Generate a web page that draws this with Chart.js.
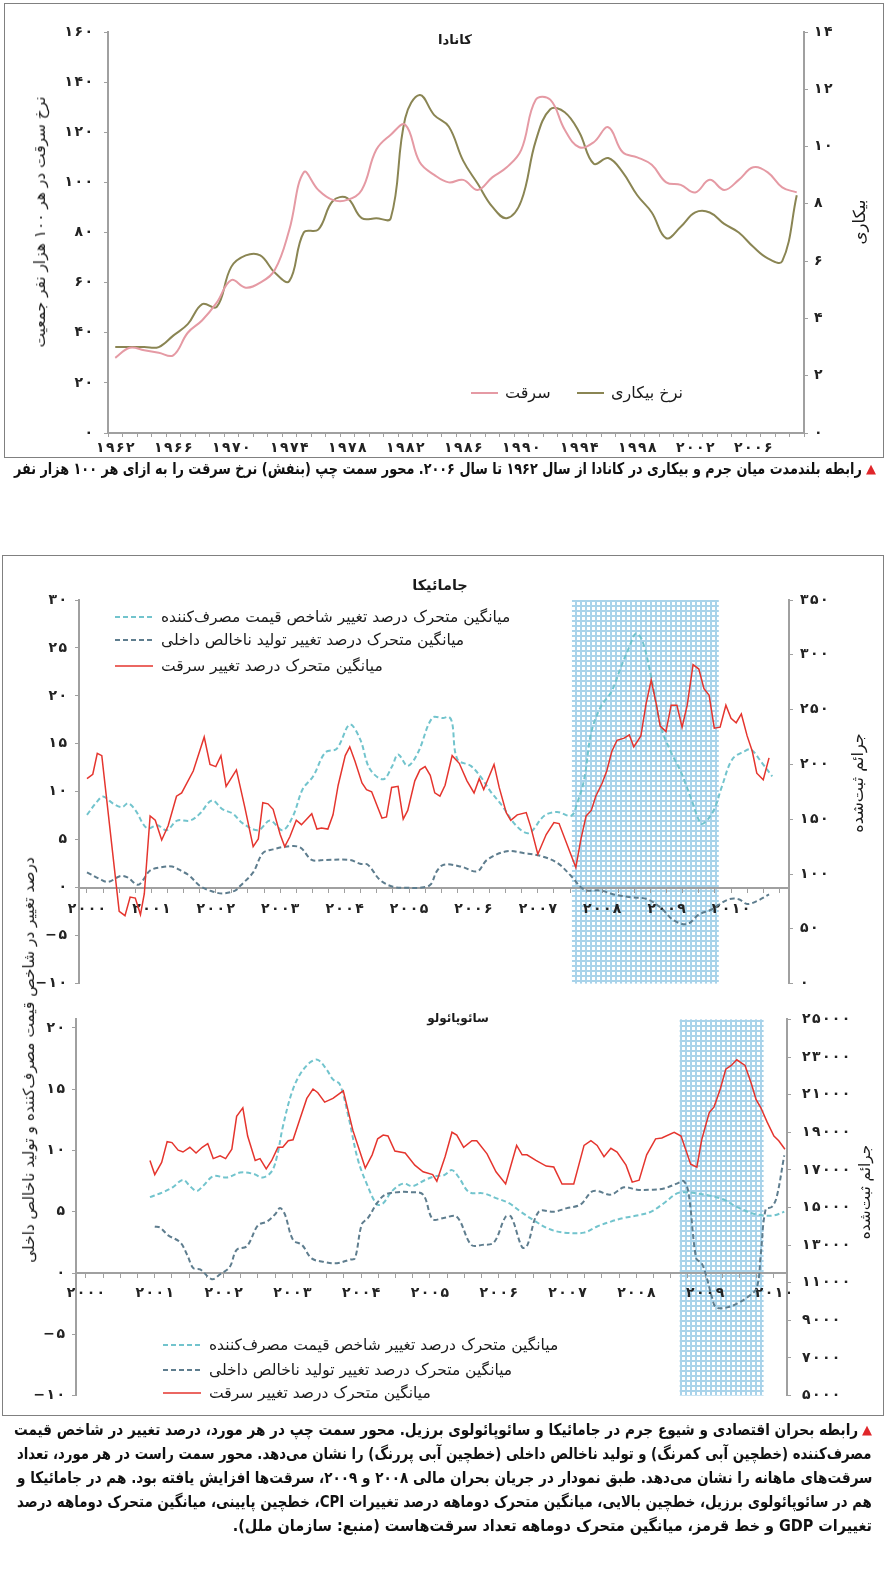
<!DOCTYPE html>
<html lang="fa">
<head>
<meta charset="utf-8">
<script src="https://cdn.jsdelivr.net/npm/chart.js@4.4.1/dist/chart.umd.min.js"></script>
<style>
  html, body { margin: 0; padding: 0; background: #fff; }
  #page { position: relative; width: 888px; height: 1578px; overflow: hidden; font-family: "DejaVu Sans", sans-serif; color: #1a1a1a; }
  .frame { position: absolute; border: 1px solid #808080; }
  .chart { position: absolute; left: 0; }
  .title { position: absolute; white-space: nowrap; transform: translate(-50%, -50%); font-weight: bold; font-size: 14px; direction: rtl; }
  .vtitle { position: absolute; white-space: nowrap; transform: translate(-50%, -50%) rotate(-90deg); font-size: 17px; direction: rtl; }
  .cap { position: absolute; white-space: nowrap; direction: rtl; font-weight: bold; font-size: 16px; line-height: 19px;
         font-family: "DejaVu Sans Condensed", "DejaVu Sans", sans-serif; transform-origin: right center; color: #111; }
  .tri { position: absolute; color: #e0262a; font-size: 13px; line-height: 19px; }
</style>
</head>
<body>
<div id="page">
  <!-- Canada -->
  <div class="frame" style="left:4px;top:3px;width:878px;height:453px"></div>
  <canvas id="canada" class="chart" width="888" height="460" style="top:0"></canvas>
  <div class="title" data-w="34" style="left:455px;top:39px">کانادا</div>
  <div class="vtitle" data-w="251" style="left:40px;top:222px">نرخ سرقت در هر ۱۰۰ هزار نفر جمعیت</div>
  <div class="vtitle" data-w="45" style="left:859px;top:222px">بیکاری</div>
  <div class="tri" style="left:866px;top:459px">▲</div>
  <div class="cap" data-w="848" style="right:26px;top:459px">رابطه بلندمدت میان جرم و بیکاری در کانادا از سال ۱۹۶۲ تا سال ۲۰۰۶. محور سمت چپ (بنفش) نرخ سرقت را به ازای هر ۱۰۰ هزار نفر</div>

  <!-- Jamaica + Sao Paulo -->
  <div class="frame" style="left:2px;top:555px;width:880px;height:859px"></div>
  <canvas id="jamaica" class="chart" width="888" height="440" style="top:560px"></canvas>
  <canvas id="saopaulo" class="chart" width="888" height="415" style="top:1000px"></canvas>
  <div class="title" data-w="56" style="left:440px;top:585px">جامائیکا</div>
  <div class="title" data-w="62" style="left:458px;top:1018px">سائوپائولو</div>
  <div class="vtitle" data-w="100" style="left:857px;top:783px">جرائم ثبت‌شده</div>
  <div class="vtitle" data-w="95" style="left:865px;top:1192px">جرائم ثبت‌شده</div>
  <div class="vtitle" data-w="406" style="left:29px;top:1060px">درصد تغییر در شاخص قیمت مصرف‌کننده و تولید ناخالص داخلی</div>

  <div class="tri" style="left:862px;top:1420px">▲</div>
  <div class="cap" data-w="844" style="right:30px;top:1420px">رابطه بحران اقتصادی و شیوع جرم در جامائیکا و سائوپائولوی برزیل. محور سمت چپ در هر مورد، درصد تغییر در شاخص قیمت</div>
  <div class="cap" data-w="855" style="right:16px;top:1444px">مصرف‌کننده (خطچین آبی کمرنگ) و تولید ناخالص داخلی (خطچین آبی پررنگ) را نشان می‌دهد. محور سمت راست در هر مورد، تعداد</div>
  <div class="cap" data-w="855" style="right:16px;top:1468px">سرقت‌های ماهانه را نشان می‌دهد. طبق نمودار در جریان بحران مالی ۲۰۰۸ و ۲۰۰۹، سرقت‌ها افزایش یافته بود. هم در جامائیکا و</div>
  <div class="cap" data-w="855" style="right:16px;top:1492px">هم در سائوپائولوی برزیل، خطچین بالایی، میانگین متحرک دوماهه درصد تغییرات CPI، خطچین پایینی، میانگین متحرک دوماهه درصد</div>
  <div class="cap" style="right:16px;top:1516px">تغییرات GDP و خط قرمز، میانگین متحرک دوماهه تعداد سرقت‌هاست (منبع: سازمان ملل).</div>
</div>

<script>
// ---------- data: Canada ----------
const canadaYears = [1962, 1963, 1964, 1965, 1966, 1967, 1968, 1969, 1970, 1971, 1972, 1973, 1974, 1975, 1976, 1977,
  1978, 1979, 1980, 1981, 1982, 1983, 1984, 1985, 1986, 1987, 1988, 1989, 1990, 1991, 1992, 1993, 1994, 1995, 1996,
  1997, 1998, 1999, 2000, 2001, 2002, 2003, 2004, 2005, 2006, 2007, 2008, 2009];
const canadaTheft = [30, 34, 33, 32, 31, 40, 45, 52, 61, 58, 60, 65, 81, 104, 97, 93,
  93, 97, 113, 119, 123, 108, 103, 100, 101, 97, 102, 106, 113, 133, 133, 121, 114, 116, 122,
  112, 110, 107, 100, 99, 96, 101, 97, 101, 106, 104, 98, 96];
const canadaUnemployment = [3.0, 3.0, 3.0, 3.0, 3.4, 3.8, 4.5, 4.4, 5.8, 6.2, 6.2, 5.6, 5.3, 7.0, 7.1, 8.1,
  8.2, 7.5, 7.5, 7.5, 11.0, 11.8, 11.1, 10.7, 9.5, 8.7, 7.9, 7.5, 8.1, 10.2, 11.3, 11.2, 10.5, 9.4, 9.6,
  9.1, 8.3, 7.7, 6.8, 7.2, 7.7, 7.7, 7.3, 7.0, 6.5, 6.1, 6.0, 8.3];

// ---------- data: Jamaica ([year, value]) ----------
const jamCrime = [[2000.00,187],[2000.09,191],[2000.16,210],[2000.23,208],[2000.50,66],[2000.59,62],[2000.67,79],[2000.75,78],
  [2000.83,63],[2000.89,82],[2000.98,153],[2001.06,149],[2001.16,131],[2001.26,144],[2001.39,171],[2001.47,174],[2001.65,194],
  [2001.82,225],[2001.91,200],[2002.00,198],[2002.08,208],[2002.16,180],[2002.32,195],[2002.45,161],[2002.58,125],[2002.66,132],
  [2002.73,165],[2002.81,164],[2002.89,159],[2003.00,136],[2003.07,125],[2003.15,134],[2003.25,149],[2003.33,145],[2003.49,155],
  [2003.57,141],[2003.64,142],[2003.74,141],[2003.82,154],[2003.90,181],[2004.01,208],[2004.08,216],[2004.16,203],[2004.27,183],
  [2004.34,177],[2004.42,175],[2004.50,163],[2004.58,151],[2004.65,152],[2004.73,179],[2004.83,180],[2004.91,150],[2004.98,158],
  [2005.09,185],[2005.17,195],[2005.25,198],[2005.33,190],[2005.40,174],[2005.48,171],[2005.56,181],[2005.67,208],[2005.78,201],
  [2005.90,185],[2006.01,174],[2006.09,187],[2006.16,177],[2006.32,200],[2006.40,179],[2006.51,156],[2006.58,149],[2006.68,154],
  [2006.82,156],[2006.89,143],[2007.00,118],[2007.13,136],[2007.25,147],[2007.33,146],[2007.59,106],[2007.67,132],[2007.75,153],
  [2007.83,158],[2007.90,171],[2008.00,183],[2008.07,194],[2008.15,212],[2008.23,222],[2008.34,224],[2008.42,227],[2008.49,216],
  [2008.60,226],[2008.68,255],[2008.76,277],[2008.84,255],[2008.90,235],[2008.99,230],[2009.07,254],[2009.16,254],[2009.24,234],
  [2009.32,254],[2009.41,291],[2009.50,287],[2009.58,269],[2009.66,263],[2009.74,233],[2009.83,234],[2009.92,254],[2010.00,242],
  [2010.08,238],[2010.16,246],[2010.25,226],[2010.33,212],[2010.40,192],[2010.50,186],[2010.59,206]];
const jamCpi = [[2000.00,7.6],[2000.16,9.0],[2000.25,9.5],[2000.40,8.8],[2000.54,8.4],[2000.64,8.8],[2000.75,8.1],[2000.93,6.2],
  [2001.09,6.5],[2001.24,6.0],[2001.40,7.0],[2001.60,7.0],[2001.75,7.7],[2001.94,9.1],[2002.10,8.2],[2002.27,7.7],[2002.42,6.7],
  [2002.66,6.0],[2002.84,7.0],[2003.04,6.0],[2003.20,7.5],[2003.35,10.3],[2003.51,11.6],[2003.70,14.1],[2003.88,14.5],[2004.08,17.0],
  [2004.24,15.5],[2004.39,12.4],[2004.60,11.3],[2004.74,12.7],[2004.83,13.9],[2004.98,12.7],[2005.14,14.1],[2005.36,17.7],
  [2005.53,17.7],[2005.62,17.8],[2005.67,17.2],[2005.75,13.4],[2005.96,12.7],[2006.12,11.5],[2006.27,10.0],[2006.44,8.6],
  [2006.66,6.5],[2006.86,5.7],[2007.10,7.5],[2007.30,7.9],[2007.52,7.5],[2007.61,8.8],[2007.72,11.3],[2007.83,16.2],[2007.98,18.9],
  [2008.14,20.4],[2008.29,23.0],[2008.42,25.1],[2008.52,26.5],[2008.62,25.8],[2008.76,22.0],[2008.91,16.8],[2009.07,14.1],
  [2009.22,12.1],[2009.38,9.3],[2009.53,6.7],[2009.61,6.9],[2009.74,8.2],[2009.86,10.6],[2010.02,13.4],[2010.20,14.2],
  [2010.31,14.4],[2010.47,13.1],[2010.64,11.6]];
const jamGdp = [[2000.00,1.6],[2000.20,0.9],[2000.33,0.6],[2000.51,1.2],[2000.62,1.1],[2000.79,0.3],[2000.87,0.8],[2000.98,1.8],
  [2001.13,2.1],[2001.32,2.2],[2001.48,1.7],[2001.60,1.2],[2001.75,0.2],[2001.91,-0.3],[2002.10,-0.6],[2002.30,-0.3],[2002.38,0.2],
  [2002.58,1.6],[2002.73,3.6],[2002.89,4.0],[2003.11,4.3],[2003.31,4.2],[2003.49,2.9],[2003.70,2.9],[2004.08,2.9],[2004.24,2.5],
  [2004.36,2.4],[2004.55,0.8],[2004.75,0.1],[2004.97,0.0],[2005.17,0.0],[2005.33,0.3],[2005.43,1.7],[2005.54,2.4],[2005.81,2.2],
  [2006.06,1.7],[2006.21,2.9],[2006.52,3.8],[2006.79,3.6],[2007.05,3.3],[2007.30,2.6],[2007.52,1.2],[2007.72,-0.2],[2007.98,-0.3],
  [2008.18,-0.7],[2008.45,-1.0],[2008.70,-1.2],[2008.91,-2.1],[2009.11,-3.4],[2009.32,-3.8],[2009.50,-2.8],[2009.69,-2.3],
  [2009.78,-1.9],[2009.97,-1.2],[2010.12,-1.2],[2010.25,-1.7],[2010.40,-1.4],[2010.59,-0.7]];
const jamCrisis = [2007.53, 2009.81];

// ---------- data: Sao Paulo ([year, value]) ----------
const spCrime = [[2000.93,17500],[2001.00,16750],[2001.10,17400],[2001.18,18500],[2001.25,18450],[2001.34,18050],[2001.41,17950],
  [2001.51,18200],[2001.60,17900],[2001.69,18200],[2001.77,18400],[2001.85,17600],[2001.95,17750],[2002.03,17600],[2002.12,18100],
  [2002.19,19850],[2002.28,20300],[2002.35,18800],[2002.46,17500],[2002.53,17600],[2002.62,17050],[2002.70,17500],[2002.79,18200],
  [2002.86,18200],[2002.94,18550],[2003.01,18600],[2003.11,19700],[2003.21,20800],[2003.30,21300],[2003.37,21100],[2003.47,20600],
  [2003.59,20800],[2003.74,21200],[2003.88,19100],[2004.06,17100],[2004.16,17800],[2004.24,18650],[2004.32,18850],[2004.39,18800],
  [2004.49,18000],[2004.64,17900],[2004.78,17250],[2004.90,16900],[2005.04,16750],[2005.10,16400],[2005.22,17700],[2005.32,19000],
  [2005.39,18850],[2005.49,18200],[2005.61,18550],[2005.68,18550],[2005.83,17850],[2005.96,16900],[2006.10,16250],[2006.26,18300],
  [2006.34,17800],[2006.41,17800],[2006.54,17500],[2006.69,17200],[2006.80,17150],[2006.92,16250],[2007.09,16250],[2007.24,18300],
  [2007.34,18550],[2007.43,18300],[2007.53,17700],[2007.63,18150],[2007.72,17950],[2007.85,17250],[2007.94,16350],[2008.04,16450],
  [2008.15,17800],[2008.28,18650],[2008.37,18700],[2008.55,19000],[2008.65,18800],[2008.79,17300],[2008.88,17150],[2008.95,18600],
  [2009.06,20050],[2009.13,20350],[2009.22,21300],[2009.30,22350],[2009.38,22550],[2009.46,22850],[2009.58,22550],[2009.67,21600],
  [2009.74,20750],[2009.81,20300],[2009.90,19550],[2010.00,18800],[2010.07,18550],[2010.16,18100]];
const spCpi = [[2000.93,6.2],[2001.12,6.6],[2001.26,7.0],[2001.41,7.6],[2001.51,7.1],[2001.61,6.7],[2001.70,7.1],[2001.85,7.9],
  [2002.05,7.8],[2002.24,8.2],[2002.43,8.1],[2002.57,7.8],[2002.70,8.3],[2002.78,9.6],[2002.86,11.9],[2002.99,14.7],[2003.11,16.2],
  [2003.26,17.2],[2003.37,17.4],[2003.50,16.6],[2003.59,15.8],[2003.69,15.4],[2003.81,12.9],[2003.95,9.3],[2004.08,7.3],[2004.23,5.6],
  [2004.32,5.7],[2004.45,6.7],[2004.61,7.3],[2004.75,7.1],[2004.93,7.6],[2005.07,7.9],[2005.21,8.0],[2005.32,8.4],[2005.42,7.8],
  [2005.57,6.6],[2005.78,6.5],[2005.97,6.1],[2006.15,5.7],[2006.32,5.0],[2006.51,4.3],[2006.73,3.6],[2006.95,3.3],[2007.24,3.3],
  [2007.43,3.8],[2007.63,4.2],[2007.82,4.5],[2008.01,4.7],[2008.21,5.0],[2008.40,5.7],[2008.59,6.5],[2008.74,6.6],[2008.88,6.5],
  [2009.08,6.3],[2009.27,6.0],[2009.46,5.4],[2009.67,4.9],[2009.85,4.7],[2010.00,4.7],[2010.15,5.0]];
const spGdp = [[2001.00,3.8],[2001.08,3.7],[2001.19,3.1],[2001.37,2.5],[2001.47,1.5],[2001.56,0.4],[2001.66,0.3],[2001.83,-0.5],
  [2001.95,-0.1],[2002.09,0.5],[2002.19,1.9],[2002.34,2.2],[2002.50,3.9],[2002.63,4.2],[2002.75,4.8],[2002.82,5.3],[2002.89,4.8],
  [2003.01,2.7],[2003.14,2.3],[2003.28,1.2],[2003.47,0.9],[2003.65,0.8],[2003.84,1.1],[2003.91,1.2],[2004.01,4.0],[2004.10,4.5],
  [2004.23,5.7],[2004.35,6.4],[2004.53,6.6],[2004.71,6.6],[2004.90,6.4],[2005.04,4.4],[2005.20,4.5],[2005.39,4.6],[2005.60,2.3],
  [2005.76,2.3],[2005.93,2.5],[2006.10,4.6],[2006.18,4.6],[2006.34,2.1],[2006.41,2.2],[2006.58,5.0],[2006.80,5.0],[2006.99,5.3],
  [2007.19,5.6],[2007.34,6.6],[2007.43,6.7],[2007.63,6.4],[2007.82,7.0],[2008.01,6.8],[2008.21,6.8],[2008.40,6.9],[2008.59,7.3],
  [2008.69,7.5],[2008.76,6.5],[2008.87,1.2],[2008.95,0.8],[2009.03,-0.5],[2009.10,-2.0],[2009.16,-2.8],[2009.32,-2.8],[2009.46,-2.5],
  [2009.61,-2.0],[2009.75,-1.2],[2009.81,1.6],[2009.88,5.2],[2009.97,5.4],[2010.04,6.2],[2010.15,9.6]];
const spCrisis = [2008.63, 2009.85];

// axis ticks
const jamLeftTicks = [-10, -5, 0, 5, 10, 15, 20, 25, 30];
const jamRightTicks = [0, 50, 100, 150, 200, 250, 300, 350];
const spLeftTicks = [-10, -5, 0, 5, 10, 15, 20];
const spRightTicks = [5000, 7000, 9000, 11000, 13000, 15000, 17000, 19000, 21000, 23000, 25000];

const labelCpi = 'میانگین متحرک درصد تغییر شاخص قیمت مصرف\u200cکننده';
const labelGdp = 'میانگین متحرک درصد تغییر تولید ناخالص داخلی';
const labelCrime = 'میانگین متحرک درصد تغییر سرقت';

// ---------- helpers ----------
// persian digits, slightly spaced like the printed figure
const fa = s => String(s).replace(/-/g, '\u2212').replace(/\d/g, d => '۰۱۲۳۴۵۶۷۸۹'[d]).split('').join('\u200a');
const toPts = arr => arr.map(p => ({ x: p[0], y: p[1] }));
const tickFont = { family: "'DejaVu Sans', sans-serif", size: 14, weight: 'bold' };
const axisGrey = '#a0a0a0';

function fixedTicks(list) {
    return function (scale) { scale.ticks = list.map(v => ({ value: v })); };
}
// quarter-year ticks, labels only on whole years
function yearTicks(scale) {
    const list = [];
    for (let v = Math.ceil(scale.min * 4) / 4; v <= scale.max; v += 0.25) list.push({ value: v });
    scale.ticks = list;
}

function axis(extra) {
    return Object.assign({
        grid: { display: true, drawOnChartArea: false, drawTicks: true, tickLength: 4, color: axisGrey, tickColor: axisGrey },
        border: { display: true, color: axisGrey, width: 2 },
    }, extra);
}

// blue grid pattern for the crisis band
function gridPattern(ctx) {
    const c = document.createElement('canvas');
    c.width = 5; c.height = 5;
    const g = c.getContext('2d');
    g.fillStyle = '#ffffff'; g.fillRect(0, 0, 5, 5);
    g.fillStyle = '#a9d3ea';
    g.fillRect(0, 0, 5, 2);
    g.fillRect(0, 0, 2, 5);
    return ctx.createPattern(c, 'repeat');
}

// drawn first so that axes, labels and lines stay on top of it
const hatchBand = {
    id: 'hatchBand',
    beforeDraw(chart, args, opts) {
        if (!opts.range) return;
        const { ctx, chartArea, scales } = chart;
        const x0 = scales.x.getPixelForValue(opts.range[0]);
        const x1 = scales.x.getPixelForValue(opts.range[1]);
        ctx.save();
        ctx.fillStyle = gridPattern(ctx);
        ctx.fillRect(x0, chartArea.top, x1 - x0, chartArea.bottom - chartArea.top);
        ctx.restore();
    }
};

// legend: sample line on the left, text right after it
const lineLegend = {
    id: 'lineLegend',
    afterDatasetsDraw(chart, args, opts) {
        if (!opts.items) return;
        const ctx = chart.ctx;
        ctx.save();
        ctx.font = opts.font;
        ctx.textBaseline = 'middle';
        ctx.textAlign = 'left';
        ctx.fillStyle = '#1a1a1a';
        opts.items.forEach(it => {
            const ds = chart.data.datasets[it[0]];
            ctx.strokeStyle = ds.borderColor;
            ctx.lineWidth = ds.borderWidth;
            ctx.setLineDash(ds.borderDash || []);
            ctx.beginPath();
            ctx.moveTo(it[1], it[2]);
            ctx.lineTo(it[1] + opts.lineLen, it[2]);
            ctx.stroke();
            ctx.fillText(ds.label, it[1] + opts.lineLen + opts.gap, it[2] + 1);
        });
        ctx.restore();
    }
};
Chart.register(hatchBand, lineLegend);

const common = {
    responsive: false,
    animation: false,
    events: [],
    devicePixelRatio: 1,
};

// ---------- Canada ----------
new Chart(document.getElementById('canada'), {
    type: 'line',
    data: {
        labels: canadaYears,
        datasets: [
            { label: 'سرقت', data: canadaTheft, yAxisID: 'y', borderColor: '#e59aa4', borderWidth: 2, tension: 0.4, pointRadius: 0 },
            { label: 'نرخ بیکاری', data: canadaUnemployment, yAxisID: 'y2', borderColor: '#8a8553', borderWidth: 2, tension: 0.4, pointRadius: 0 }
        ]
    },
    options: Object.assign({}, common, {
        layout: { autoPadding: false, padding: { top: 32, bottom: 0, left: 0, right: 0 } },
        plugins: {
            legend: { display: false }, tooltip: { enabled: false },
            lineLegend: { font: "16px 'DejaVu Sans'", lineLen: 27, gap: 7, items: [[0, 471, 393], [1, 577, 393]] }
        },
        scales: {
            x: axis({
                type: 'category', offset: true,
                grid: { display: true, drawOnChartArea: false, drawTicks: true, tickLength: 4, offset: true, color: axisGrey, tickColor: axisGrey },
                ticks: {
                    autoSkip: false, maxRotation: 0, padding: 3, font: tickFont, color: '#222',
                    callback(v, i) { return i % 4 === 0 ? fa(this.getLabelForValue(v)) : ''; }
                },
                afterFit(s) { s.height = 27; }
            }),
            y: axis({
                position: 'left', min: 0, max: 160,
                ticks: { stepSize: 20, padding: 11, font: tickFont, color: '#222', callback: v => fa(v) },
                afterFit(s) { s.width = 108; }
            }),
            y2: axis({
                position: 'right', min: 0, max: 14,
                ticks: { stepSize: 2, padding: 6, font: tickFont, color: '#222', callback: v => fa(v) },
                afterFit(s) { s.width = 84; }
            })
        }
    })
});

// ---------- Jamaica / Sao Paulo ----------
function crimeChart(canvasId, cfg) {
    return new Chart(document.getElementById(canvasId), {
        type: 'line',
        data: {
            datasets: [
                { label: labelCpi, data: toPts(cfg.cpi), yAxisID: 'y', borderColor: '#72c4cd', borderWidth: 2,
                  borderDash: [5, 3], tension: 0.35, pointRadius: 0, order: 2 },
                { label: labelGdp, data: toPts(cfg.gdp), yAxisID: 'y', borderColor: '#5e7d8e', borderWidth: 2,
                  borderDash: [5, 3], tension: 0.35, pointRadius: 0, order: 1 },
                { label: labelCrime, data: toPts(cfg.crime), yAxisID: 'y2', borderColor: '#e5352e', borderWidth: 1.5,
                  tension: 0, pointRadius: 0, order: 0 }
            ]
        },
        options: Object.assign({}, common, {
            layout: { autoPadding: false, padding: cfg.padding },
            plugins: {
                legend: { display: false }, tooltip: { enabled: false },
                hatchBand: { range: cfg.crisis },
                lineLegend: { font: "15.5px 'DejaVu Sans'", lineLen: 38, gap: 8, items: cfg.legend }
            },
            scales: {
                x: axis({
                    type: 'linear', position: { y: 0 }, min: cfg.xMin, max: cfg.xMax,
                    afterBuildTicks: yearTicks,
                    ticks: { autoSkip: false, maxRotation: 0, padding: cfg.xPad, font: tickFont, color: '#222',
                             callback: v => Number.isInteger(v) ? fa(v) : '' }
                }),
                y: axis({
                    position: 'left', min: cfg.yMin, max: cfg.yMax,
                    afterBuildTicks: fixedTicks(cfg.leftTicks),
                    ticks: { padding: cfg.yPad, font: tickFont, color: '#222', callback: v => fa(v) },
                    afterFit(s) { s.width = cfg.leftW; }
                }),
                y2: axis({
                    position: 'right', min: cfg.y2Min, max: cfg.y2Max,
                    afterBuildTicks: fixedTicks(cfg.rightTicks),
                    ticks: { padding: cfg.y2Pad, font: tickFont, color: '#222', callback: v => fa(v) },
                    afterFit(s) { s.width = cfg.rightW; }
                })
            }
        })
    });
}

// canvas top 560: chart area 600..988
crimeChart('jamaica', {
    crime: jamCrime, cpi: jamCpi, gdp: jamGdp, crisis: jamCrisis,
    padding: { top: 40, bottom: 12, left: 0, right: 0 },
    xMin: 1999.876, xMax: 2010.90, xPad: 9,
    yMin: -10, yMax: 30, leftTicks: jamLeftTicks, yPad: 8, leftW: 79,
    y2Min: 0, y2Max: 350, rightTicks: jamRightTicks, y2Pad: 7, rightW: 99,
    legend: [[0, 115, 57], [1, 115, 80], [2, 115, 106]]
});

// canvas top 1000: chart area 1011..1406
crimeChart('saopaulo', {
    crime: spCrime, cpi: spCpi, gdp: spGdp, crisis: spCrisis,
    padding: { top: 11, bottom: 9, left: 0, right: 0 },
    xMin: 1999.855, xMax: 2010.19, xPad: 8,
    yMin: -10, yMax: 20.7, leftTicks: spLeftTicks, yPad: 7, leftW: 76,
    y2Min: 5000, y2Max: 25000, rightTicks: spRightTicks, y2Pad: 11, rightW: 101,
    legend: [[0, 163, 345], [1, 163, 370], [2, 163, 393]]
});

// ---------- fit HTML texts to the widths measured on the original ----------
document.querySelectorAll('.title, .vtitle').forEach(el => {
    const target = +el.dataset.w;
    const fs = parseFloat(getComputedStyle(el).fontSize);
    el.style.fontSize = (fs * target / el.offsetWidth).toFixed(2) + 'px';
});
document.querySelectorAll('.cap').forEach(el => {
    if (!el.dataset.w) return;
    const target = +el.dataset.w;
    const w = el.offsetWidth;
    if (w > target) {
        el.style.transform = 'scaleX(' + (target / w).toFixed(4) + ')';
    } else {
        const spaces = (el.textContent.match(/ /g) || []).length;
        el.style.wordSpacing = ((target - w) / spaces).toFixed(2) + 'px';
    }
});
</script>
</body>
</html>
